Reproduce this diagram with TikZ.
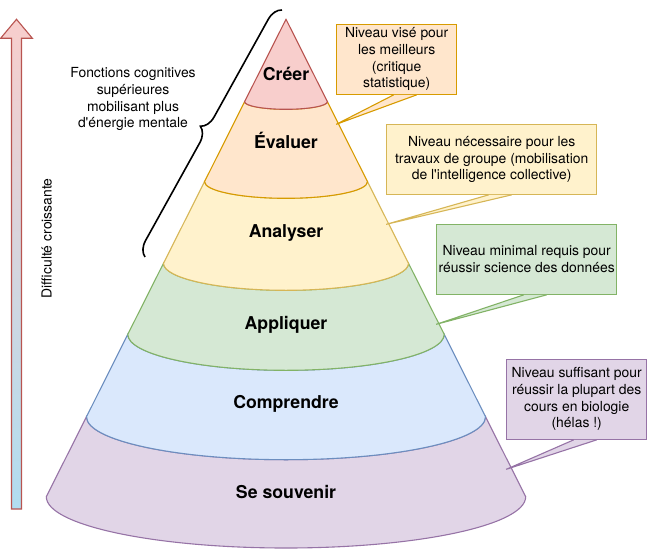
\documentclass[tikz,border=0pt]{standalone}
\usepackage{fontspec}
\setmainfont{TeX Gyre Heros}
\usepackage{xcolor}
\usetikzlibrary{calc,decorations.pathreplacing}

\definecolor{souvenirFill}{HTML}{E1D5E7}   \definecolor{souvenirLine}{HTML}{9673A6}
\definecolor{comprendreFill}{HTML}{DAE8FC} \definecolor{comprendreLine}{HTML}{6C8EBF}
\definecolor{appliquerFill}{HTML}{D5E8D4}  \definecolor{appliquerLine}{HTML}{82B366}
\definecolor{analyserFill}{HTML}{FFF2CC}   \definecolor{analyserLine}{HTML}{D6B656}
\definecolor{evaluerFill}{HTML}{FFE6CC}    \definecolor{evaluerLine}{HTML}{D79B00}
\definecolor{creerFill}{HTML}{F8CECC}      \definecolor{creerLine}{HTML}{B85450}
\definecolor{arrowBottom}{HTML}{B1DDF0}

\begin{document}
\begin{tikzpicture}[x=1pt,y=1pt,
  layer/.style 2 args={fill=#1,draw=#2,line width=1.1pt},
  level/.style={font=\fontsize{17.7}{21}\selectfont\bfseries,anchor=base},
  plain/.style={font=\fontsize{13.9}{16.7}\selectfont,align=center},
  note/.style 2 args={plain,fill=#1,draw=#2,line width=1.1pt,inner sep=0pt},
  pointer/.style 2 args={fill=#1,draw=#2,line width=1.1pt},
  bracket/.style={decorate,decoration={brace,amplitude=15pt},line width=1.6pt}]
  \useasboundingbox (0,0) rectangle (647,550);
  % Difficulty arrow (gradient)
  \draw[draw=creerLine,line width=1.1pt,top color=creerFill,bottom color=arrowBottom]
    (11.5,41) -- (11.5,511.7) -- (0.6,511.7) -- (16.5,530.7) -- (32.4,511.7) -- (21.5,511.7) -- (21.5,41) -- cycle;
  \node[plain,rotate=90] (difficulty) at (46.7,311.7) {Difficulté croissante};
  % Cone layers, bottom first (top y / rx / ry, bottom y / rx / ry)
  \foreach \yt/\rt/\st/\yb/\rb/\sb/\cf/\cd in {
    133.3/199.5/43/53.3/239.7/51.3/souvenirFill/souvenirLine,
    215.7/158.2/36/133.3/199.5/43/comprendreFill/comprendreLine,
    286.7/122.5/27/215.7/158.2/36/appliquerFill/appliquerLine,
    368.3/81.5/16.6/286.7/122.5/27/analyserFill/analyserLine,
    448.3/41.4/7.6/368.3/81.5/16.6/evaluerFill/evaluerLine,
    530.7/0.01/0.01/448.3/41.4/7.6/creerFill/creerLine}
  {
    \draw[layer={\cf}{\cd}] (286-\rt,\yt) -- (286-\rb,\yb)
      arc[start angle=180,end angle=360,x radius=\rb,y radius=\sb]
      -- (286+\rt,\yt) arc[start angle=0,end angle=-180,x radius=\rt,y radius=\st] -- cycle;
  }
  \node[level] (creer) at (286,469) {Créer};
  \node[level] (evaluer) at (286,401.7) {Évaluer};
  \node[level] (analyser) at (286,312.7) {Analyser};
  \node[level] (appliquer) at (286,220.7) {Appliquer};
  \node[level] (comprendre) at (286,142) {Comprendre};
  \node[level] (souvenir) at (286,52) {Se souvenir};
  % Brace over the upper levels
  \node[plain] (upper) at (133,450.8) {Fonctions cognitives\\supérieures\\mobilisant plus\\d\textquotesingle énergie mentale};
  \coordinate (braceLow) at (145,293);
  \coordinate (braceHigh) at (282,540);
  \draw[bracket] (braceLow) -- (braceHigh);
  % Callouts
  \node[note={evaluerFill}{evaluerLine},minimum width=120,minimum height=70] (best) at (396.7,490.7)
    {Niveau visé pour\\les meilleurs\\(critique\\statistique)};
  \node[note={analyserFill}{analyserLine},minimum width=210,minimum height=69.6] (group) at (491.7,390.5)
    {Niveau nécessaire pour les\\travaux de groupe (mobilisation\\de l\textquotesingle intelligence collective)};
  \node[note={appliquerFill}{appliquerLine},minimum width=180,minimum height=70] (minimal) at (526.7,290.7)
    {Niveau minimal requis pour\\réussir science des données};
  \node[note={souvenirFill}{souvenirLine},minimum width=140,minimum height=80] (enough) at (576.7,150.7)
    {Niveau suffisant pour\\réussir la plupart des\\cours en biologie\\(hélas !)};
  \foreach \n/\cf/\cd in {best/evaluerFill/evaluerLine,group/analyserFill/analyserLine,
                          minimal/appliquerFill/appliquerLine,enough/souvenirFill/souvenirLine}
  {
    \coordinate (\n-tip) at ($(\n.south west)+(0,-29.5)$);
    \draw[pointer={\cf}{\cd}] ($(\n.south)+(-3,0)$) -- (\n-tip) -- ($(\n.south)+(20,0)$);
  }
\end{tikzpicture}
\end{document}
